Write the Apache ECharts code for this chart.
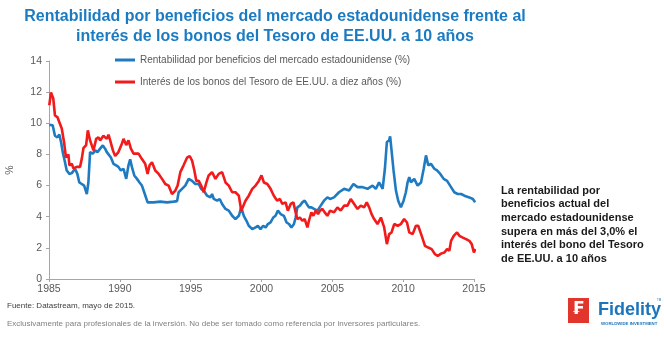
<!DOCTYPE html>
<html><head><meta charset="utf-8">
<script src="https://cdn.jsdelivr.net/npm/echarts@6/dist/echarts.min.js"></script>
<style>html,body{margin:0;padding:0;background:#fff}#c{width:664px;height:346px}</style>
</head><body><div id="c"></div>
<script>
// ---- data ----
const xTicks = [1985, 1990, 1995, 2000, 2005, 2010, 2015];
const yTicks = [0, 2, 4, 6, 8, 10, 12, 14];
const seriesNames = [
  'Rentabilidad por beneficios del mercado estadounidense (%)',
  'Interés de los bonos del Tesoro de EE.UU. a diez años (%)'
];
const blueYears = [1985.02,1985.26,1985.42,1985.59,1985.73,1985.85,1985.97,1986.13,1986.25,1986.44,
1986.61,1986.72,1986.84,1987.0,1987.14,1987.31,1987.48,1987.67,1987.78,1987.9,
1988.09,1988.26,1988.42,1988.61,1988.8,1988.96,1989.08,1989.2,1989.37,1989.55,
1989.74,1989.9,1990.07,1990.26,1990.45,1990.61,1990.73,1990.85,1991.02,1991.21,
1991.39,1991.56,1991.72,1991.86,1991.96,1992.1,1992.38,1992.86,1993.33,1993.8,
1994.04,1994.15,1994.39,1994.62,1994.86,1995.1,1995.33,1995.57,1995.74,1995.92,
1996.16,1996.39,1996.51,1996.63,1996.87,1997.05,1997.22,1997.46,1997.69,1997.93,
1998.16,1998.4,1998.57,1998.75,1998.94,1999.1,1999.35,1999.58,1999.74,1999.93,
2000.12,2000.29,2000.45,2000.64,2000.83,2000.99,2001.16,2001.35,2001.58,2001.77,
2001.94,2002.11,2002.29,2002.41,2002.53,2002.71,2002.88,2003.05,2003.19,2003.35,
2003.52,2003.71,2003.95,2004.18,2004.41,2004.65,2004.84,2005.12,2005.47,2005.83,
2006.18,2006.49,2006.78,2007.13,2007.48,2007.84,2008.07,2008.3,2008.55,2008.71,
2008.85,2009.01,2009.08,2009.18,2009.32,2009.49,2009.65,2009.84,2010.03,2010.19,
2010.31,2010.43,2010.55,2010.78,2011.02,2011.26,2011.45,2011.61,2011.77,2011.96,
2012.2,2012.39,2012.62,2012.86,2013.1,2013.38,2013.61,2013.85,2014.09,2014.32,
2014.67,2014.92,2015.08];
const blueValues = [9.9,9.87,9.2,9.1,9.27,8.8,8.15,7.5,6.97,6.75,
6.8,6.7,7.08,6.75,6.2,6.1,6.0,5.46,6.2,8.15,
8.05,8.26,8.15,8.37,8.58,8.37,8.15,8.26,7.8,7.4,
7.3,7.2,6.97,7.08,6.43,7.3,7.68,7.2,6.65,6.43,
6.2,6.0,5.57,5.46,4.92,4.82,4.92,4.97,4.92,4.97,
5.0,5.57,5.79,6.0,6.43,6.3,6.1,6.1,5.79,5.68,
5.35,5.24,5.46,5.14,5.03,5.14,4.82,4.5,4.39,4.06,
3.85,4.06,4.6,4.06,3.74,3.42,3.2,3.31,3.42,3.2,
3.42,3.31,3.53,3.63,3.95,4.06,4.39,4.17,4.06,3.63,
3.53,3.31,3.53,3.95,4.6,4.71,4.92,5.03,4.82,4.6,
4.6,4.5,4.39,4.71,5.03,5.24,5.14,5.24,5.57,5.79,
5.68,6.1,5.9,5.9,5.79,6.0,5.79,6.2,5.79,7.08,
8.8,8.9,9.16,8.26,6.97,5.68,5.03,4.6,5.03,5.57,
6.2,6.54,6.2,6.43,6.0,6.2,7.08,7.94,7.3,7.4,
7.08,6.97,6.75,6.43,6.3,5.9,5.57,5.46,5.46,5.35,
5.24,5.14,4.92];
const redYears = [1985.02,1985.14,1985.3,1985.42,1985.59,1985.73,1985.9,1986.06,1986.2,1986.37,
1986.44,1986.61,1986.72,1986.96,1987.19,1987.31,1987.43,1987.62,1987.74,1987.9,
1988.02,1988.14,1988.33,1988.49,1988.61,1988.84,1989.08,1989.2,1989.32,1989.51,
1989.67,1989.9,1990.15,1990.26,1990.45,1990.61,1990.78,1990.97,1991.32,1991.56,
1991.79,1991.96,1992.1,1992.27,1992.5,1992.74,1992.98,1993.21,1993.44,1993.68,
1993.92,1994.08,1994.27,1994.5,1994.75,1994.93,1995.1,1995.26,1995.4,1995.57,
1995.74,1995.92,1996.11,1996.27,1996.51,1996.75,1996.98,1997.22,1997.46,1997.69,
1997.93,1998.16,1998.4,1998.57,1998.71,1998.87,1999.1,1999.35,1999.58,1999.81,
2000.0,2000.17,2000.41,2000.64,2000.87,2001.11,2001.3,2001.47,2001.7,2001.86,
2002.06,2002.25,2002.41,2002.53,2002.71,2002.88,2003.05,2003.24,2003.35,2003.52,
2003.66,2003.83,2003.99,2004.13,2004.3,2004.46,2004.65,2004.84,2005.12,2005.36,
2005.59,2005.83,2006.07,2006.3,2006.54,2006.78,2007.01,2007.24,2007.43,2007.6,
2007.77,2007.95,2008.19,2008.43,2008.66,2008.85,2009.01,2009.18,2009.37,2009.61,
2009.84,2010.07,2010.27,2010.43,2010.67,2010.9,2011.06,2011.31,2011.54,2011.77,
2012.01,2012.25,2012.44,2012.67,2012.91,2013.1,2013.26,2013.38,2013.57,2013.8,
2013.97,2014.21,2014.44,2014.67,2014.84,2014.99,2015.1];
const redValues = [11.16,11.98,11.6,10.5,10.4,10.3,9.66,8.8,7.8,8.0,
7.3,7.4,7.1,7.2,7.2,7.7,8.4,8.6,9.55,8.9,
8.8,8.26,9.0,9.1,8.9,9.2,9.0,9.27,8.9,8.26,
7.9,8.15,8.7,9.0,8.6,8.9,8.37,8.05,8.05,7.7,
7.4,6.75,7.3,7.5,6.97,6.75,6.43,6.1,6.0,5.46,
5.68,6.0,6.86,7.3,7.8,7.9,7.6,6.97,6.3,6.3,
6.0,5.57,6.2,6.65,6.86,6.43,6.75,6.86,6.2,6.0,
5.57,5.57,5.35,4.39,4.5,5.03,5.35,5.79,6.0,6.3,
6.65,6.2,6.1,5.79,5.35,5.03,5.14,4.82,4.92,4.39,
4.82,4.92,4.28,3.85,3.95,3.74,3.85,3.31,3.74,4.28,
4.06,4.39,4.17,4.39,4.5,4.28,4.06,4.39,4.28,4.6,
4.39,4.71,4.71,5.14,4.82,4.5,4.71,4.6,4.92,4.6,
4.17,3.85,3.53,3.95,3.31,2.24,2.88,2.99,3.53,3.42,
3.53,3.85,3.63,2.99,2.88,3.42,3.42,2.77,2.13,2.02,
1.92,1.59,1.48,1.63,1.7,1.92,1.81,2.45,2.77,2.99,
2.77,2.66,2.56,2.45,2.24,1.7,1.92];
// gap arrow (latest values)
const gapArrowX = 2015.14;
const gapArrowFrom = 4.97;
const gapArrowTo = 2.41;

const titleText = 'Rentabilidad por beneficios del mercado estadounidense frente al\ninterés de los bonos del Tesoro de EE.UU. a 10 años';
const noteText = 'La rentabilidad por\nbeneficios actual del\nmercado estadounidense\nsupera en más del 3,0% el\ninterés del bono del Tesoro\nde EE.UU. a 10 años';
const sourceText = 'Fuente: Datastream, mayo de 2015.';
const disclaimerText = 'Exclusivamente para profesionales de la inversión. No debe ser tomado como referencia por inversores particulares.';

// ---- chart ----
const FONT = "'Liberation Sans', Arial, Helvetica, sans-serif";
const BLUE = '#1f7bc1';
const RED = '#f21a1a';
const chart = echarts.init(document.getElementById('c'), null, {renderer: 'canvas'});

const chevron = 'path://M0,0 L10,9 L8.6,10.2 L0,2.4 L-8.6,10.2 L-10,9 Z';

chart.setOption({
  animation: false,
  backgroundColor: '#fff',
  textStyle: {fontFamily: FONT},
  title: {
    text: titleText,
    left: 270,
    top: 2,
    textAlign: 'center',
    textStyle: {fontFamily: FONT, fontSize: 16, fontWeight: 'bold', color: '#1b7bc2', lineHeight: 20}
  },
  legend: {
    orient: 'vertical',
    left: 110,
    top: 50,
    padding: 5,
    itemGap: 12,
    itemWidth: 20,
    itemHeight: 3,
    icon: 'rect',
    textStyle: {fontFamily: FONT, fontSize: 10, color: '#595959'},
    data: seriesNames
  },
  grid: {left: 49, right: 190, top: 61, bottom: 67, containLabel: false, outerBoundsMode: 'none'},
  xAxis: {
    type: 'value',
    min: xTicks[0],
    max: xTicks[xTicks.length - 1],
    interval: 5,
    axisLine: {lineStyle: {color: '#a6a6a6', width: 1}},
    axisTick: {show: true, length: 3, lineStyle: {color: '#a6a6a6'}},
    axisLabel: {fontSize: 10.5, color: '#595959', margin: 5, fontFamily: FONT, formatter: v => String(v)},
    splitLine: {show: false}
  },
  yAxis: {
    type: 'value',
    min: yTicks[0],
    max: yTicks[yTicks.length - 1],
    interval: 2,
    name: '%',
    nameLocation: 'middle',
    nameRotate: 90,
    nameGap: 33,
    nameTextStyle: {fontSize: 10.5, color: '#595959', fontFamily: FONT},
    axisLine: {show: true, lineStyle: {color: '#a6a6a6', width: 1}},
    axisTick: {show: true, length: 3, lineStyle: {color: '#a6a6a6'}},
    axisLabel: {fontSize: 10.5, color: '#595959', margin: 7, fontFamily: FONT},
    splitLine: {show: false}
  },
  series: [
    {
      name: seriesNames[0],
      type: 'line',
      data: blueYears.map((y, i) => [y, blueValues[i]]),
      showSymbol: false,
      clip: false,
      color: BLUE,
      lineStyle: {width: 2.6, color: BLUE},
      z: 2
    },
    {
      name: seriesNames[1],
      type: 'line',
      data: redYears.map((y, i) => [y, redValues[i]]),
      showSymbol: false,
      clip: false,
      color: RED,
      lineStyle: {width: 2.6, color: RED},
      z: 3,
      markLine: {
        silent: true,
        symbol: [chevron, chevron],
        symbolSize: [9, 6],
        label: {show: false},
        lineStyle: {color: '#8c8c8c', width: 1, type: 'solid'},
        data: [[{coord: [gapArrowX, gapArrowFrom]}, {coord: [gapArrowX, gapArrowTo]}]]
      }
    }
  ],
  graphic: [
    {type: 'text', left: 501, top: 184, style: {text: noteText, font: "bold 11px 'Liberation Sans', Arial, sans-serif", fill: '#1a1a1a', lineHeight: 13.6}},
    {type: 'text', left: 7, top: 302, style: {text: sourceText, font: "8px 'Liberation Sans', Arial, sans-serif", fill: '#404040'}},
    {type: 'text', left: 7, top: 320, style: {text: disclaimerText, font: "8px 'Liberation Sans', Arial, sans-serif", fill: '#808080'}},
    {type: 'rect', shape: {x: 568, y: 298, width: 21, height: 25}, style: {fill: '#e2352b'}},
    {type: 'text', left: 572, top: 301, style: {text: '₣', font: "bold 17px 'DejaVu Sans', sans-serif", fill: '#ffffff'}},
    {type: 'text', left: 598, top: 301, style: {text: 'Fidelity', font: "bold 18px 'Liberation Sans', Arial, sans-serif", fill: '#1b75bc'}},
    {type: 'text', left: 601, top: 322, style: {text: 'WORLDWIDE INVESTMENT', font: "bold 4.3px 'Liberation Sans', Arial, sans-serif", fill: '#1b75bc'}},
    {type: 'text', left: 657, top: 299, style: {text: 'TM', font: "3px 'Liberation Sans', Arial, sans-serif", fill: '#1b75bc'}}
  ]
});
</script>
</body></html>
